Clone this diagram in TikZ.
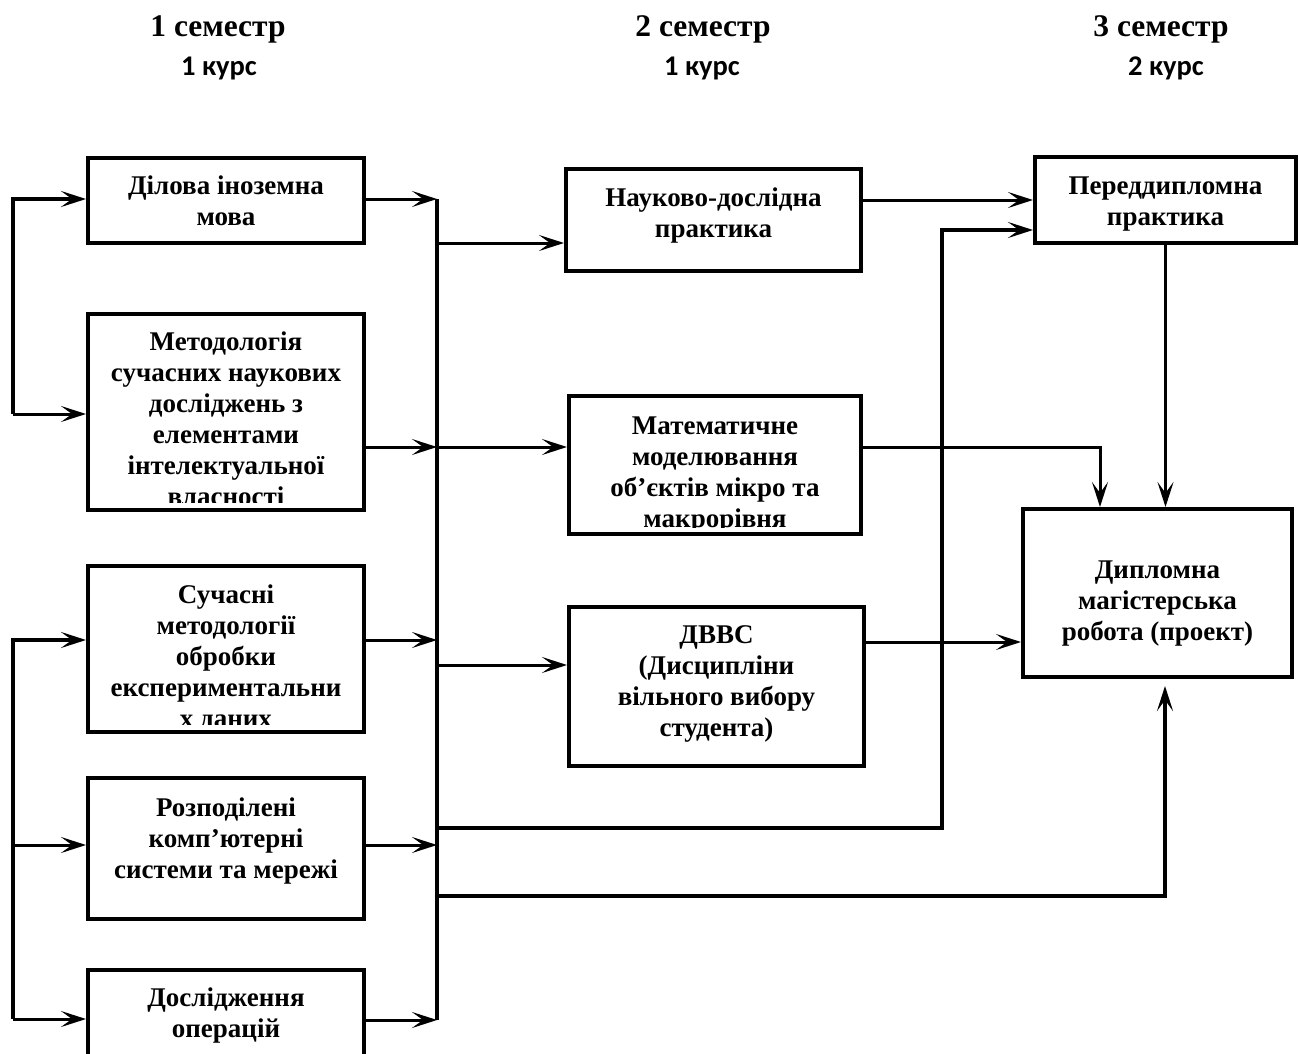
\documentclass[tikz,border=0pt]{standalone}
\usepackage{fontspec}
\setmainfont{Liberation Serif}
\newfontfamily\kursfont{Carlito}
\usetikzlibrary{arrows.meta,calc}

\tikzset{
  blok/.style={draw, line width=4pt, inner sep=0pt},
  napys/.style={anchor=north, inner sep=0pt, align=center, font=\fontsize{27}{31}\selectfont\bfseries},
  semestr/.style={anchor=base, inner sep=0pt, font=\fontsize{31.5}{36}\selectfont\bfseries},
  kurs/.style={anchor=base, inner sep=0pt, font=\kursfont\bfseries\fontsize{28.5}{32}\selectfont},
  strilka/.style={line width=3pt, -{Stealth[length=25pt,width=16pt,inset=11pt]}},
  shyna/.style={line width=4.3pt},
}

\begin{document}
\begin{tikzpicture}[x=1pt,y=1pt,yscale=-1,xscale=1]
\clip (0,0) rectangle (1299,1054);

% Headers
\node[semestr] (sem1) at (218,37) {1 семестр};
\node[kurs] (kurs1) at (219,76) {1 курс};
\node[semestr] (sem2) at (703,37) {2 семестр};
\node[kurs] (kurs2) at (702,76) {1 курс};
\node[semestr] (sem3) at (1161,37) {3 семестр};
\node[kurs] (kurs3) at (1166,76) {2 курс};

% Boxes, 1 semester
\node[blok, minimum width=276, minimum height=85] (dilova) at (226,200.5) {};
\node[blok, minimum width=276, minimum height=196] (metod) at (226,412) {};
\node[blok, minimum width=276, minimum height=166] (sucasni) at (226,649) {};
\node[blok, minimum width=276, minimum height=141] (rozpod) at (226,848.5) {};
\node[blok, minimum width=276, minimum height=98] (doslid) at (226,1019) {};
% Boxes, 2 semester
\node[blok, minimum width=295, minimum height=102] (naukovo) at (713.5,220) {};
\node[blok, minimum width=292, minimum height=138] (matem) at (715,465) {};
\node[blok, minimum width=295, minimum height=159] (dvvs) at (716.5,686.5) {};
% Boxes, 3 semester
\node[blok, minimum width=261, minimum height=86] (pered) at (1165.5,200) {};
\node[blok, minimum width=269, minimum height=168] (dyplom) at (1157.5,593) {};

% Text in boxes
\node[napys] (dilovaT) at ($(dilova.north)+(0,20)$) {Ділова іноземна\\мова};
\begin{scope}
\clip (metod.north west) rectangle ($(metod.south east)+(0,-10)$);
\node[napys] (metodT) at ($(metod.north)+(0,20)$) {Методологія\\сучасних наукових\\досліджень з\\елементами\\інтелектуальної\\власності};
\end{scope}
\begin{scope}
\clip (sucasni.north west) rectangle ($(sucasni.south east)+(0,-10)$);
\node[napys] (sucasniT) at ($(sucasni.north)+(0,21)$) {Сучасні\\методології\\обробки\\експериментальни\\х даних};
\end{scope}
\node[napys] (rozpodT) at ($(rozpod.north)+(0,21.5)$) {Розподілені\\комп’ютерні\\системи та мережі};
\node[napys] (doslidT) at ($(doslid.north)+(0,20)$) {Дослідження\\операцій};
\node[napys] (naukovoT) at ($(naukovo.north)+(0,20.5)$) {Науково-дослідна\\практика};
\begin{scope}
\clip (matem.north west) rectangle ($(matem.south east)+(0,-9)$);
\node[napys] (matemT) at ($(matem.north)+(0,22.5)$) {Математичне\\моделювання\\об’єктів мікро та\\макрорівня};
\end{scope}
\node[napys] (dvvsT) at ($(dvvs.north)+(0,20.5)$) {ДВВС\\(Дисципліни\\вільного вибору\\студента)};
\node[napys] (peredT) at ($(pered.north)+(0,22)$) {Переддипломна\\практика};
\node[napys] (dyplomT) at ($(dyplom.north)+(0,54)$) {Дипломна\\магістерська\\робота (проект)};

% Left lines
\coordinate (livA) at (13,199);
\coordinate (livB) at (13,414);
\coordinate (livC) at (13,640);
\coordinate (livE) at (13,845);
\coordinate (livD) at (13,1019);
\draw[strilka, line width=3.5pt] (livB) -- (livA) -- (livA -| dilova.west);
\draw[strilka] (livB) -- (livB -| metod.west);
\draw[strilka, line width=3.5pt] (livD) -- (livC) -- (livC -| sucasni.west);
\draw[strilka] (livE) -- (livE -| rozpod.west);
\draw[strilka] (livD) -- (livD -| doslid.west);

% Bus
\coordinate (b1) at (437,199);
\coordinate (b2) at (437,447);
\coordinate (b3) at (437,640);
\coordinate (b4) at (437,845);
\coordinate (b5) at (437,1020);
\draw[shyna] (b1) -- (b5);
\draw[strilka] (dilova.east |- b1) -- (b1);
\draw[strilka] (metod.east |- b2) -- (b2);
\draw[strilka] (sucasni.east |- b3) -- (b3);
\draw[strilka] (rozpod.east |- b4) -- (b4);
\draw[strilka] (doslid.east |- b5) -- (b5);

% Branches
\coordinate (v1) at (437,243);
\coordinate (v3) at (437,665);
\coordinate (v4) at (437,828);
\coordinate (v5) at (437,896);
\draw[strilka] (v1) -- (v1 -| naukovo.west);
\draw[strilka] (b2) -- (b2 -| matem.west);
\draw[strilka] (v3) -- (v3 -| dvvs.west);
\coordinate (k1) at (942,828);
\coordinate (k1up) at (942,230);
\draw[strilka, line width=4pt] (v4) -- (k1) -- (k1up) -- (k1up -| pered.west);
\coordinate (k2) at (1165,896);
\draw[strilka, line width=3.5pt, shorten >=7pt] (v5) -- (k2) -- (k2 |- dyplom.south);

% To 3 semester
\draw[strilka] (naukovo.east |- pered.west) -- (pered.west);
\coordinate (m1) at (1100,447);
\draw[strilka] (matem.east |- m1) -- (m1) -- (m1 |- dyplom.north);
\draw[strilka] (pered.south) -- (pered.south |- dyplom.north);
\coordinate (d1) at (1023,642);
\draw[strilka] (dvvs.east |- d1) -- (d1 -| dyplom.west);

\end{tikzpicture}
\end{document}
